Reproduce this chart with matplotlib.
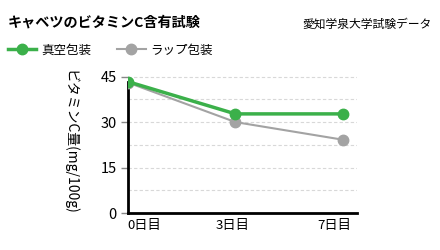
import matplotlib
matplotlib.use('Agg')
import matplotlib.pyplot as plt

plt.rcParams['font.family'] = ['Noto Sans CJK JP', 'DejaVu Sans']

days = ['0日目', '3日目', '7日目']
vacuum = [43.3, 32.7, 32.7]
wrap = [43.0, 30.0, 24.2]
yticks = [0, 15, 30, 45]

green = '#3BB04A'
grey = '#A3A3A3'

fig = plt.figure(figsize=(4.4, 2.5), dpi=100)
ax = fig.add_axes([0.291, 0.147, 0.52, 0.553])

x = list(range(len(days)))
l2, = ax.plot(x, wrap, color=grey, lw=1.5, marker='o', ms=7.5, zorder=3)
l1, = ax.plot(x, vacuum, color=green, lw=2.5, marker='o', ms=7.5, zorder=4)

ax.set_xlim(0, 2.13)
ax.set_ylim(0, 45.5)
ax.set_xticks(x)
ax.set_xticklabels([])
# labels sit a little off the points in the original (offsets in points)
shifts = [12, -2, -6]
for i, (d, dx) in enumerate(zip(days, shifts)):
  ax.annotate(d, xy=(i, 0), xycoords=('data', 'axes fraction'), xytext=(dx, -9),
              textcoords='offset points', ha='center', va='center', fontsize=9.5)
ax.set_yticks(yticks)
ax.set_yticklabels([str(v) for v in yticks], fontsize=10.5)
for v in [7.5, 15, 22.5, 30, 37.5, 45]:
  ax.axhline(v, color='#d8d8d8', lw=0.8, ls=(0, (3, 2)), zorder=1)

for s in ['top', 'right']:
  ax.spines[s].set_visible(False)
ax.spines['left'].set_linewidth(2)
ax.spines['bottom'].set_linewidth(2)
ax.spines['left'].set_bounds(0, vacuum[0])
ax.tick_params(axis='x', length=0)
ax.tick_params(axis='y', length=5, color='#888888', width=1, pad=3)
ax.set_ylabel('ビタミンC量(mg/100g)', rotation=-90, fontsize=10)
ax.yaxis.set_label_coords(-0.285, 0.51)

fig.text(0.018, 0.91, 'キャベツのビタミンC含有試験', fontsize=10.2, fontweight='bold', va='center')
fig.text(0.982, 0.905, '愛知学泉大学試験データ', fontsize=8.5, ha='right', va='center')
fig.legend([l1, l2], ['真空包装', 'ラップ包装'], loc='center left', bbox_to_anchor=(-0.008, 0.8),
           ncol=2, frameon=False, fontsize=9, handlelength=2.3, columnspacing=2.1, handletextpad=0.35)

fig.savefig('out.png', dpi=100)
